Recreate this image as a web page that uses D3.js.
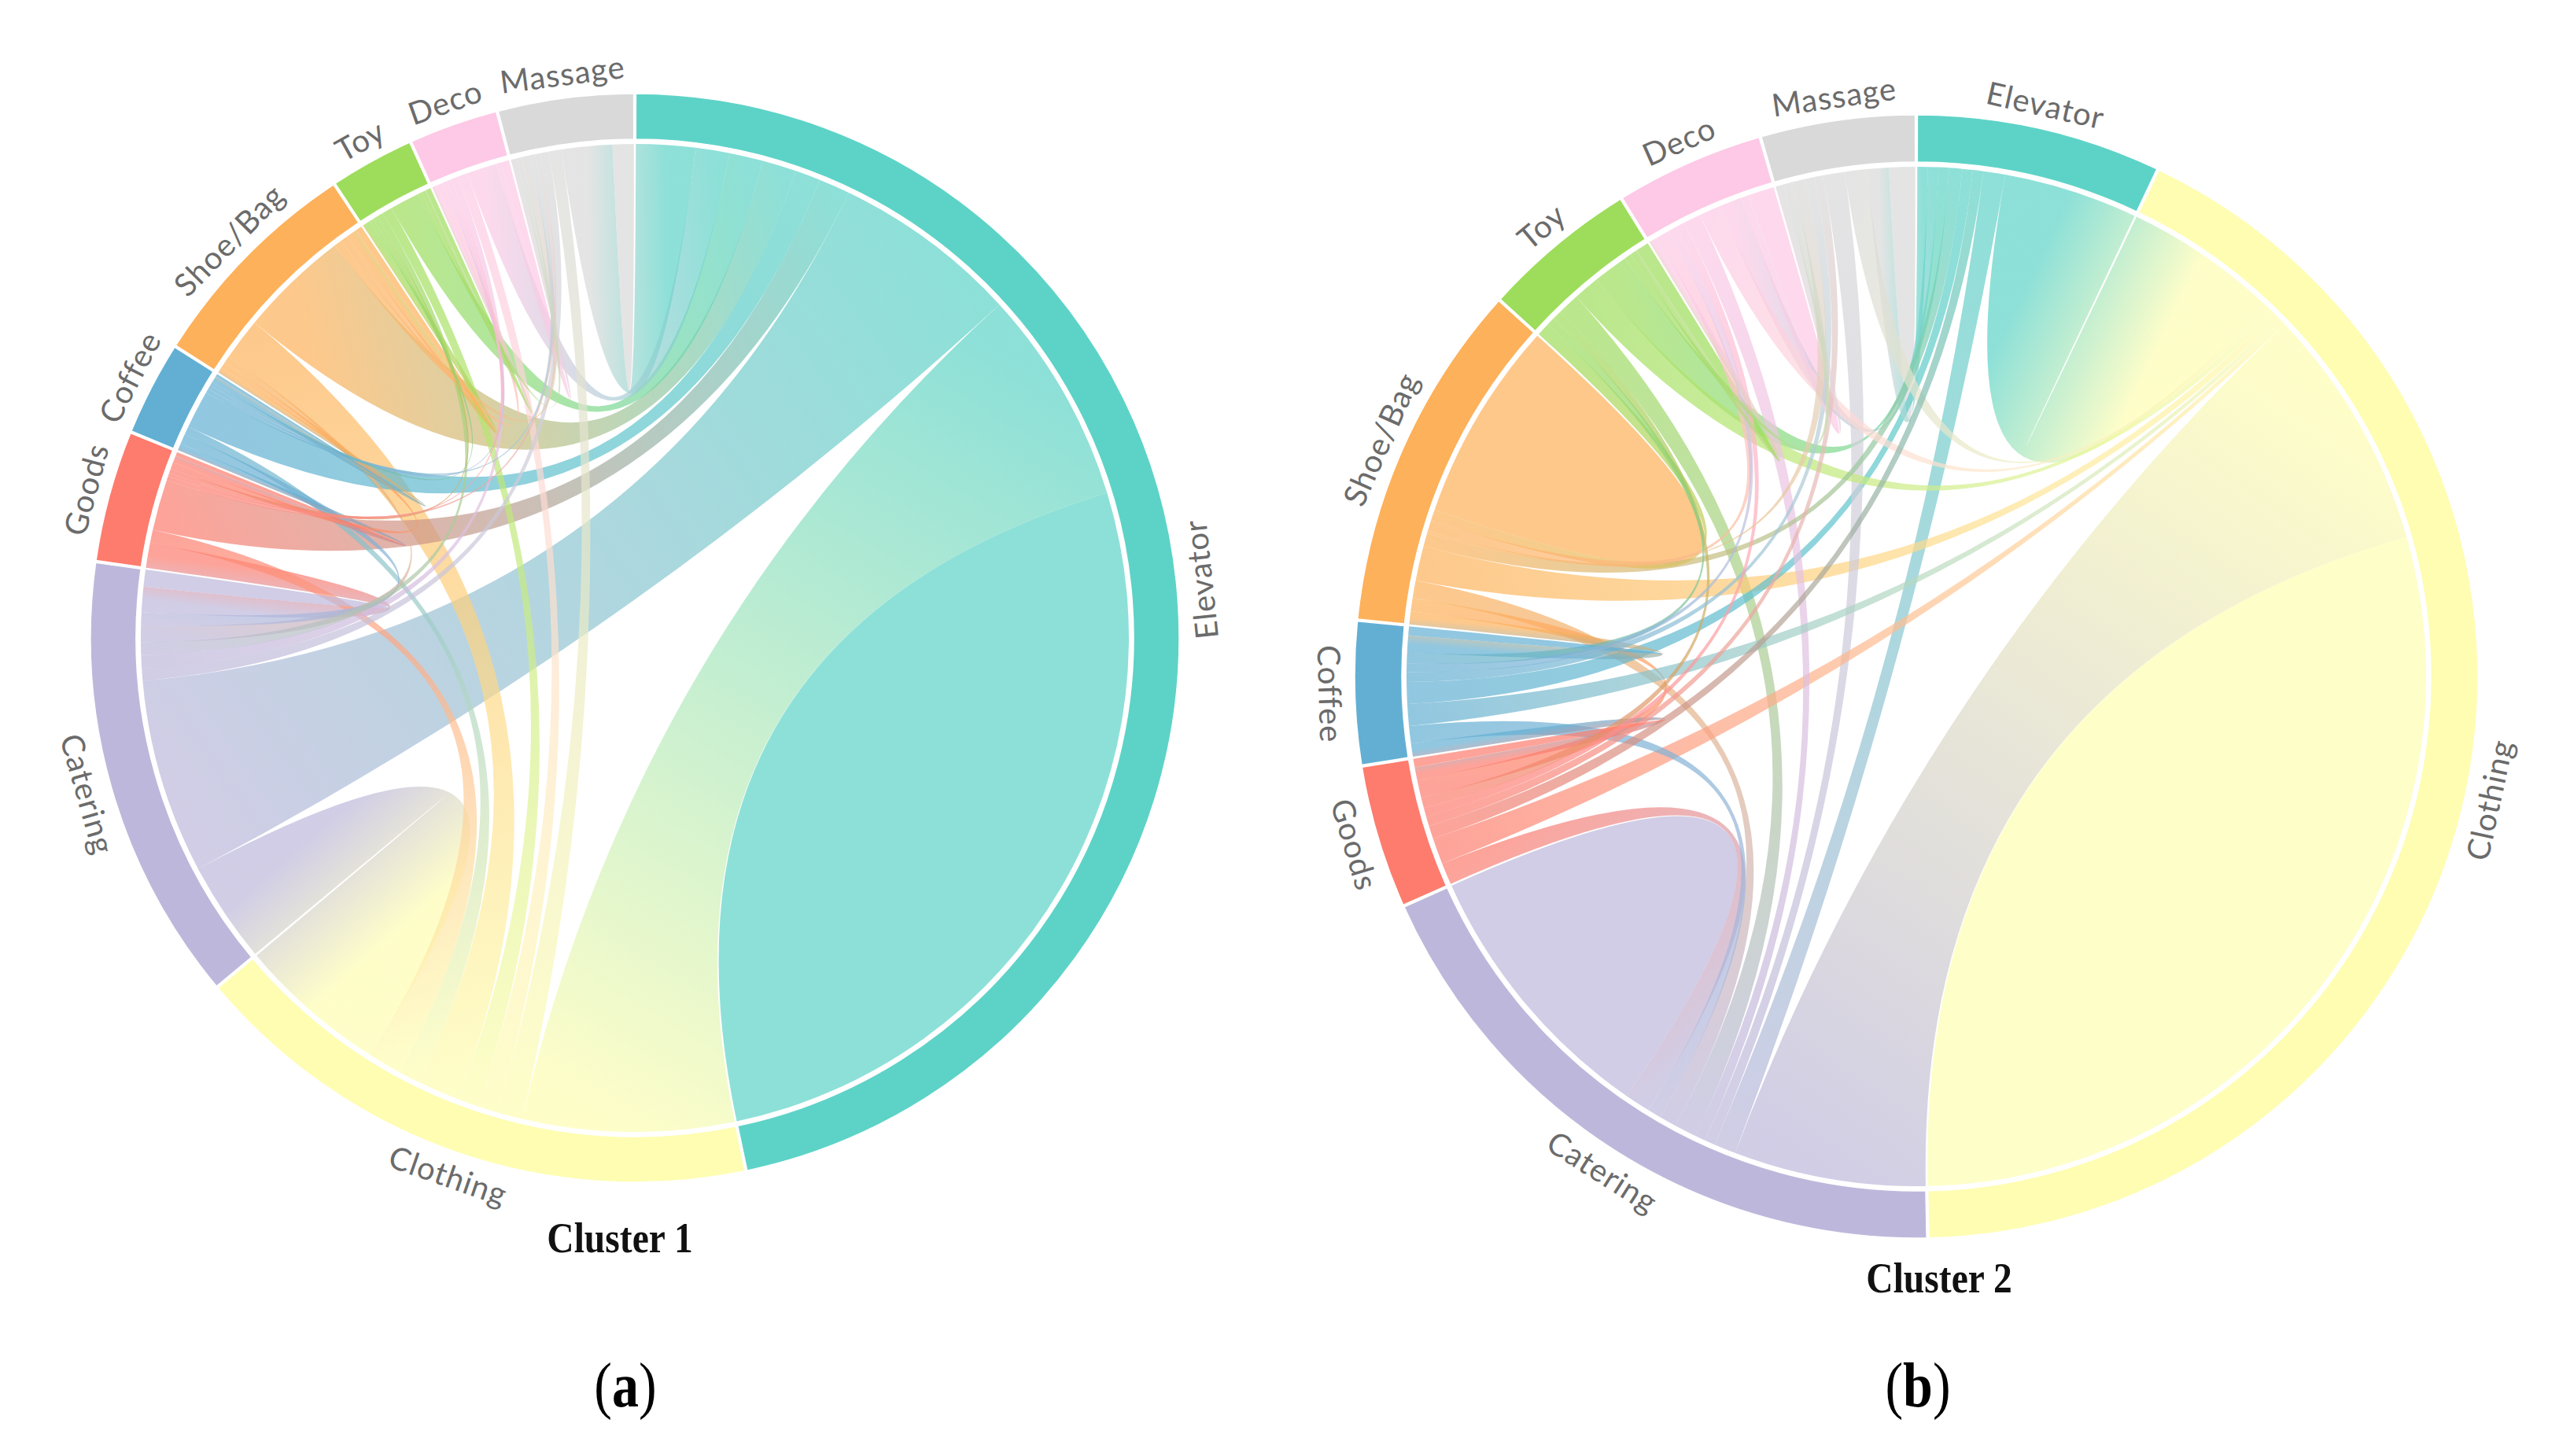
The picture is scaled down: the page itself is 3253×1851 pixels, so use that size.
<!DOCTYPE html>
<html>
<head>
<meta charset="utf-8">
<script src="https://cdn.jsdelivr.net/npm/d3@7"></script>
<style>
  body { margin: 0; background: #fff; }
  svg { display: block; }
</style>
</head>
<body>
<svg id="chart" width="3253" height="1851"></svg>
<script>
// categories, clockwise from 12 o'clock
const groups = ["Elevator", "Clothing", "Catering", "Goods", "Coffee", "Shoe/Bag", "Toy", "Deco", "Massage"];
const groupColors = ["#5dd3c7", "#fefdb2", "#bdb8db", "#fd7c6e", "#63afd3", "#fdb15a", "#9ddd5b", "#fdc9e6", "#d9d9d9"];

// flow matrices, row = group arc, column order same as groups
const cluster1 = [
  [95.7, 25.5, 22, 3.7, 3, 4, 4, 4, 7],       // Elevator
  [25, 0, 17.7, 4, 2.5, 5, 2.5, 2.3, 3],       // Clothing
  [23, 12, 2, 3, 1.5, 2, 1.5, 1.5, 1.5],       // Catering
  [6, 1.5, 3, 0.5, 0.8, 0.8, 0.5, 0.4, 0.5],   // Goods
  [4.5, 1, 1.2, 0.8, 0.3, 0.8, 0.4, 0.5, 0.5], // Coffee
  [13, 5, 0.8, 0.7, 0.7, 0.8, 1.2, 0.9, 0.9],  // Shoe/Bag
  [3.5, 1.2, 0.8, 0.5, 0.4, 1, 0.6, 0.5, 0.5], // Toy
  [3.5, 1.2, 0.8, 0.5, 0.5, 0.8, 0.6, 1, 0.6], // Deco
  [6, 1.5, 1, 0.6, 0.6, 1, 0.6, 0.7, 2.5]      // Massage
];
const cluster2 = [
  [0, 15.4, 2.5, 1.2, 1.2, 1.5, 1.2, 1.2, 1.2],
  [17.6, 105.2, 28, 0.5, 0.5, 0.8, 0.6, 0.4, 0.4],
  [2.5, 22, 31.3, 3, 1.5, 2, 2.5, 1.2, 1.2],
  [1.5, 3, 2.5, 1, 1.5, 2, 1.2, 1, 1.1],
  [2.5, 2.5, 2, 1.5, 1, 2, 1.2, 1, 1.1],
  [1.5, 4, 2, 1.5, 1.5, 23, 1.3, 1.2, 0.3],
  [4, 3, 2.5, 1, 1, 1.5, 1.5, 0.8, 0.8],
  [2.5, 2.5, 2, 1, 1, 1.5, 1, 3, 0.9],
  [2.5, 2.5, 2.5, 1, 1, 1.5, 1, 1, 3]
];
const titles = ["Cluster 1", "Cluster 2"];
const panelLetters = ["a", "b"];

const svg = d3.select("#chart");
const defs = svg.append("defs");

// chord layout: inside each group the links run i-1, i-2, ... and the self link last
function layoutChord(matrix, pad) {
  const n = matrix.length;
  const sums = matrix.map(r => d3.sum(r));
  const k = (2 * Math.PI - pad * n) / d3.sum(sums);
  const out = [], sub = [];
  let a = pad / 2;
  for (let i = 0; i < n; i++) {
    const g = {index: i, startAngle: a, value: sums[i]};
    sub[i] = [];
    for (let m = 0; m < n; m++) {
      const j = ((i - 1 - m) % n + n) % n;
      const w = matrix[i][j] * k;
      sub[i][j] = {index: i, subindex: j, startAngle: a, endAngle: a + w, value: matrix[i][j]};
      a += w;
    }
    g.endAngle = a;
    out.push(g);
    a += pad;
  }
  const chords = [];
  for (let i = 0; i < n; i++)
    for (let j = i; j < n; j++)
      if (matrix[i][j] + matrix[j][i] > 0) chords.push({source: sub[i][j], target: sub[j][i]});
  return {groups: out, chords: chords};
}

function drawChord(matrix, cx, cy, outerR, bandW, idx) {
  const lay = layoutChord(matrix, 0.004);
  const ribbonR = outerR - bandW - 6;
  const g = svg.append("g").attr("transform", `translate(${cx},${cy})`);

  const ribbon = d3.ribbon().radius(ribbonR);
  const mid = d => (d.startAngle + d.endAngle) / 2;

  // wide links first, thin ones on top
  const chords = lay.chords.slice().sort((a, b) =>
    (b.source.value + b.target.value) - (a.source.value + a.target.value));

  chords.forEach((c, n) => {
    const i = c.source.index, j = c.target.index;
    let fill = groupColors[i];
    if (i !== j) {
      const gid = `grad${idx}_${n}`;
      const a1 = mid(c.source), a2 = mid(c.target);
      // user space of the path = the translated group, so centre is 0,0
      const lg = defs.append("linearGradient").attr("id", gid)
        .attr("gradientUnits", "userSpaceOnUse")
        .attr("x1", ribbonR * Math.sin(a1)).attr("y1", -ribbonR * Math.cos(a1))
        .attr("x2", ribbonR * Math.sin(a2)).attr("y2", -ribbonR * Math.cos(a2));
      lg.append("stop").attr("offset", "0%").attr("stop-color", groupColors[i]);
      lg.append("stop").attr("offset", "100%").attr("stop-color", groupColors[j]);
      fill = `url(#${gid})`;
    }
    g.append("path")
      .attr("d", ribbon(c))
      .attr("fill", fill)
      .attr("fill-opacity", 0.7);
  });

  const arc = d3.arc().innerRadius(outerR - bandW).outerRadius(outerR);
  const ga = svg.append("g").attr("transform", `translate(${cx},${cy})`);
  ga.selectAll("path").data(lay.groups).enter().append("path")
    .attr("d", arc)
    .attr("fill", d => groupColors[d.index])
    .attr("stroke", "#fff")
    .attr("stroke-width", 1.5);

  ga.selectAll("text").data(lay.groups).enter().append("text")
    .attr("transform", d => {
      const deg = mid(d) * 180 / Math.PI;
      const flip = deg > 80 && deg < 280;
      return `rotate(${deg}) translate(0,${-(outerR + 31)})` + (flip ? " rotate(180)" : "");
    })
    .attr("text-anchor", "middle")
    .attr("dominant-baseline", "central")
    .attr("font-family", "Lato, 'Open Sans', sans-serif")
    .attr("font-size", 40)
    .attr("letter-spacing", 1)
    .attr("fill", "#6b6b6b")
    .text(d => groups[d.index]);
}

drawChord(cluster1, 807, 811, 692, 58, 0);
drawChord(cluster2, 2436, 860, 714, 60, 1);

// titles and panel letters
const titlePos = [[788, 1592], [2465, 1643]];
const letterPos = [[795, 1788], [2438, 1788]];
titles.forEach((t, k) => {
  svg.append("text")
    .attr("transform", `translate(${titlePos[k][0]},${titlePos[k][1]}) scale(0.85,1)`)
    .attr("text-anchor", "middle")
    .attr("font-family", "'Liberation Serif', 'Times New Roman', serif")
    .attr("font-weight", "bold")
    .attr("font-size", 56)
    .attr("fill", "#111")
    .text(t);
  const lt = svg.append("text")
    .attr("transform", `translate(${letterPos[k][0]},${letterPos[k][1]}) scale(0.85,1)`)
    .attr("text-anchor", "middle")
    .attr("font-family", "'Liberation Serif', 'Times New Roman', serif")
    .attr("font-size", 80)
    .attr("fill", "#000");
  lt.append("tspan").text("(");
  lt.append("tspan").attr("font-weight", "bold").text(panelLetters[k]);
  lt.append("tspan").text(")");
});
</script>
</body>
</html>
